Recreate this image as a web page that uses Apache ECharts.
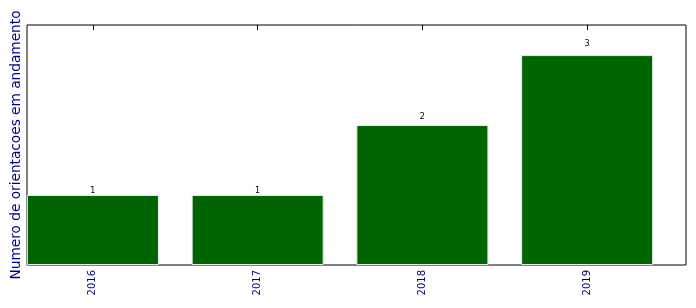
<!DOCTYPE html>
<html>
<head>
<meta charset="utf-8">
<script src="https://cdn.jsdelivr.net/npm/echarts@6/dist/echarts.min.js"></script>
<style>html,body{margin:0;padding:0;background:#fff}#c{width:696px;height:308px}</style>
</head>
<body>
<div id="c"></div>
<script>
const categories = ['2016', '2017', '2018', '2019'];
const values = [1, 1, 2, 3];
const yLabel = 'Numero de orientacoes em andamento';

const chart = echarts.init(document.getElementById('c'), null, {renderer: 'canvas'});
const positions = categories.map((c, i) => i);
const tickStyle = {show: true, inside: true, length: 5, lineStyle: {color: '#000'}, customValues: positions};
chart.setOption({
  animation: false,
  grid: {left: 27, right: 10, top: 25, bottom: 43, show: true, borderColor: '#000', borderWidth: 1,
    backgroundColor: 'transparent', containLabel: false, outerBoundsMode: 'none'},
  xAxis: [{
    type: 'value', min: -0.4, max: 3.6,
    axisLine: {show: false},
    splitLine: {show: false},
    axisTick: tickStyle,
    axisLabel: {show: true, rotate: 90, fontFamily: 'DejaVu Sans', fontSize: 10, color: '#00008b', margin: 5,
      customValues: positions, formatter: v => categories[Math.round(v)]}
  }, {
    type: 'value', min: -0.4, max: 3.6, position: 'top',
    axisLine: {show: false}, splitLine: {show: false}, axisLabel: {show: false},
    axisTick: tickStyle
  }],
  yAxis: [{
    type: 'value', min: 0, max: 3.43,
    axisLine: {show: false}, axisTick: {show: false}, axisLabel: {show: false}, splitLine: {show: false},
    name: yLabel, nameLocation: 'middle', nameGap: 4,
    nameTextStyle: {fontFamily: 'DejaVu Sans', fontSize: 13.7, color: '#00008b'}
  }],
  series: [{
    type: 'bar',
    data: values.map((v, i) => [positions[i], v]),
    barWidth: 132,
    itemStyle: {color: '#006400', borderColor: '#e8e8e8', borderWidth: 1}
  }, {
    type: 'scatter',
    symbolSize: 0,
    silent: true,
    itemStyle: {opacity: 1},
    data: values.map((v, i) => ({value: [positions[i], v * 1.05], label: {formatter: String(v)}})),
    label: {show: true, position: 'inside', align: 'center', verticalAlign: 'bottom', offset: [0, 3],
      fontFamily: 'DejaVu Sans', fontSize: 8, color: '#000', opacity: 1}
  }]
});
</script>
</body>
</html>
